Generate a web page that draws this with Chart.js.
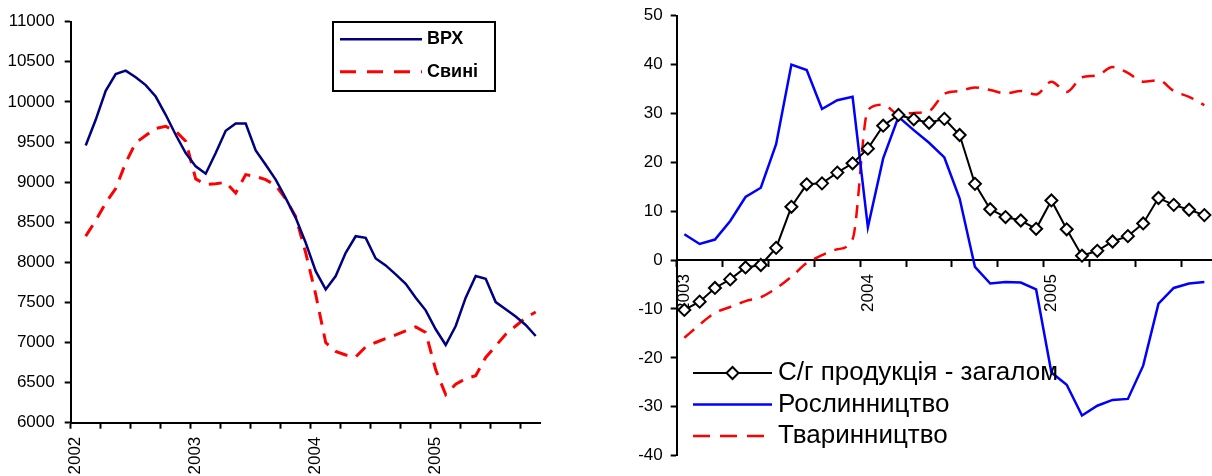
<!DOCTYPE html>
<html>
<head>
<meta charset="utf-8">
<script src="https://cdn.jsdelivr.net/npm/chart.js@4/dist/chart.umd.min.js"></script>
<style>
body{margin:0;background:#fff;width:1212px;height:476px;overflow:hidden;position:relative}
#left{position:absolute;left:0;top:0;width:560px;height:476px}
#right{position:absolute;left:600px;top:0;width:620px;height:476px}
</style>
</head>
<body>
<div id="left"><canvas id="chart-left"></canvas></div>
<div id="right"><canvas id="chart-right"></canvas></div>
<script>
// ліва діаграма: ціни, місяці 2002-01 .. 2005-11
const startLeft = 2002
const vrh = [null, 9457, 9777, 10138, 10346, 10390, 10308, 10209, 10067, 9839, 9590, 9363,
  9196, 9105, 9363, 9640, 9731, 9731, 9396, 9217, 9031, 8800, 8554, 8243,
  7890, 7662, 7828, 8119, 8325, 8305, 8048, 7961, 7849, 7733, 7559, 7401,
  7165, 6969, 7206, 7559, 7828, 7795, 7504, 7414, 7323, 7219, 7081]
const svyni = [null, 8326, 8520, 8740, 8920, 9240, 9490, 9580, 9670, 9695, 9635, 9510,
  9040, 8970, 8980, 8997, 8865, 9093, 9070, 9030, 8960, 8790, 8570, 8119,
  7600, 7000, 6890, 6845, 6820, 6945, 7000, 7050, 7095, 7144, 7194, 7124,
  6660, 6350, 6480, 6550, 6585, 6814, 6957, 7103, 7206, 7310, 7380]

// права діаграма: темпи, місяці 2003-01 .. 2005-11
const startRight = 2003
const zagalom = [-10.2, -8.5, -5.7, -3.95, -1.5, -1.0, 2.5, 10.9, 15.5, 15.7, 17.9, 19.8,
  22.8, 27.5, 29.7, 28.8, 28.1, 28.9, 25.6, 15.6, 10.4, 8.8, 8.1, 6.4,
  12.2, 6.3, 0.9, 1.9, 3.8, 4.9, 7.5, 12.7, 11.3, 10.3, 9.2]
const roslyn = [5.3, 3.3, 4.2, 8.0, 12.9, 14.8, 23.7, 40.0, 38.9, 30.9, 32.7, 33.4,
  6.7, 20.8, 29.3, 26.6, 24.0, 21.0, 12.6, -1.4, -4.8, -4.5, -4.6, -6.0,
  -23.0, -25.5, -31.8, -29.8, -28.6, -28.4, -21.6, -8.9, -5.7, -4.8, -4.5]
const tvaryn = [-15.9, -13.2, -10.8, -9.6, -8.4, -7.6, -5.8, -3.4, -0.6, 1.0, 2.2, 4.3,
  30.7, 31.8, 29.9, 30.1, 30.5, 34.0, 34.6, 35.3, 34.8, 34.1, 34.6, 33.9,
  36.5, 34.4, 37.4, 37.8, 39.5, 38.3, 36.5, 36.8, 34.6, 33.4, 31.7]

function monthLabels(year, n){
  var out = []
  for (var i = 0; i < n; i++){
    out.push((year + Math.floor(i/12)) + '-' + String(i%12 + 1).padStart(2,'0'))
  }
  return out
}
const labelsLeft = monthLabels(startLeft, vrh.length)
const labelsRight = monthLabels(startRight, zagalom.length)

Chart.defaults.font.family = "'Liberation Sans', Arial, sans-serif"
Chart.defaults.font.size = 17
Chart.defaults.color = '#000'

// легенда, яку малюємо самі
const drawnLegend = {
  id: 'drawnLegend',
  afterDraw(chart, args, o){
    const ctx = chart.ctx
    ctx.save()
    if (o.box){
      ctx.lineWidth = 2
      ctx.strokeStyle = '#000'
      ctx.strokeRect(o.box[0], o.box[1], o.box[2], o.box[3])
    }
    chart.data.datasets.forEach(function(ds, i){
      var y = o.y0 + i*o.step
      ctx.beginPath()
      ctx.setLineDash(o.dash && ds.borderDash ? o.dash : [])
      ctx.lineWidth = ds.borderWidth
      ctx.strokeStyle = ds.borderColor
      ctx.moveTo(o.x0, y)
      ctx.lineTo(o.x1, y)
      ctx.stroke()
      ctx.setLineDash([])
      if (ds.pointRadius){
        ctx.fillStyle = ds.pointBackgroundColor
        ctx.strokeStyle = ds.borderColor
        ctx.lineWidth = ds.pointBorderWidth
        Chart.helpers.drawPoint(ctx, {pointStyle: ds.pointStyle, radius: ds.pointRadius, rotation: 0, borderWidth: ds.pointBorderWidth}, (o.x0+o.x1)/2, y)
      }
      ctx.fillStyle = '#000'
      ctx.font = o.font
      ctx.textBaseline = 'middle'
      ctx.textAlign = 'left'
      ctx.fillText(ds.label, o.textX, y)
    })
    ctx.restore()
  }
}

function xAxis(pad, height){
  var ax = {
    type: 'category',
    offset: true,
    border: {color: '#000', width: 2},
    grid: {
      offset: true,
      drawOnChartArea: false,
      tickLength: 6,
      tickWidth: 2,
      color: function(c){ return c.index % 3 === 0 ? '#000' : 'rgba(0,0,0,0)' }
    },
    ticks: {
      autoSkip: false,
      minRotation: 90,
      maxRotation: 90,
      padding: pad,
      callback: function(v, i){ return i % 12 === 0 ? this.getLabelForValue(v).slice(0,4) : '' }
    },
    afterFit: function(s){
      s.paddingLeft = 0
      s.paddingRight = 0
      if (height) s.height = height
    }
  }
  if (!height) ax.position = {y: 0}
  return ax
}

function yAxis(min, max, step, width, pad){
  return {
    min: min, max: max,
    border: {color: '#000', width: 2},
    grid: {drawOnChartArea: false, tickLength: 6, tickWidth: 2, color: '#000'},
    ticks: {stepSize: step, padding: pad, callback: function(v){ return String(v) }},
    afterFit: function(s){ s.width = width; s.paddingTop = 0; s.paddingBottom = 0 }
  }
}

new Chart(document.getElementById('chart-left'), {
  type: 'line',
  data: {
    labels: labelsLeft,
    datasets: [
      {label: 'ВРХ', data: vrh, borderColor: '#000080', borderWidth: 2.5, pointRadius: 0, tension: 0},
      {label: 'Свині', data: svyni, borderColor: '#ff0000', borderWidth: 3, borderDash: [13, 9], pointRadius: 0, tension: 0}
    ]
  },
  options: {
    responsive: true,
    maintainAspectRatio: false,
    animation: false,
    layout: {padding: {top: 21.7, right: 19.3, left: 0, bottom: 0}},
    plugins: {
      legend: {display: false},
      tooltip: {enabled: false},
      drawnLegend: {box: [333, 22, 162, 69], x0: 340, x1: 422, y0: 39.3, step: 32.4, textX: 427, dash: [16, 11], font: "bold 18px 'Liberation Sans', Arial, sans-serif"}
    },
    scales: {
      x: xAxis(8, 53.3),
      y: yAxis(6000, 11000, 500, 70.7, 10)
    }
  },
  plugins: [drawnLegend]
})

new Chart(document.getElementById('chart-right'), {
  type: 'line',
  data: {
    labels: labelsRight,
    datasets: [
      {label: 'С/г продукція - загалом', data: zagalom, borderColor: '#000', borderWidth: 2,
        pointStyle: 'rectRot', pointRadius: 6, pointBorderWidth: 2, pointBackgroundColor: '#fff', pointBorderColor: '#000', tension: 0},
      {label: 'Рослинництво', data: roslyn, borderColor: '#0000ff', borderWidth: 2.5, pointRadius: 0, tension: 0},
      {label: 'Тваринництво', data: tvaryn, borderColor: '#ff0000', borderWidth: 2.5, borderDash: [13, 9], pointRadius: 0, cubicInterpolationMode: 'monotone'}
    ]
  },
  options: {
    responsive: true,
    maintainAspectRatio: false,
    animation: false,
    layout: {padding: {top: 15.7, right: 1.2, left: 0, bottom: 20.4}},
    plugins: {
      legend: {display: false},
      tooltip: {enabled: false},
      drawnLegend: {x0: 93, x1: 172, y0: 373, step: 31.5, textX: 178, dash: [17, 10], font: "26px 'Liberation Sans', Arial, sans-serif"}
    },
    scales: {
      x: xAxis(8, 0),
      y: yAxis(-40, 50, 10, 76.7, 8)
    }
  },
  plugins: [drawnLegend]
})
</script>
</body>
</html>
